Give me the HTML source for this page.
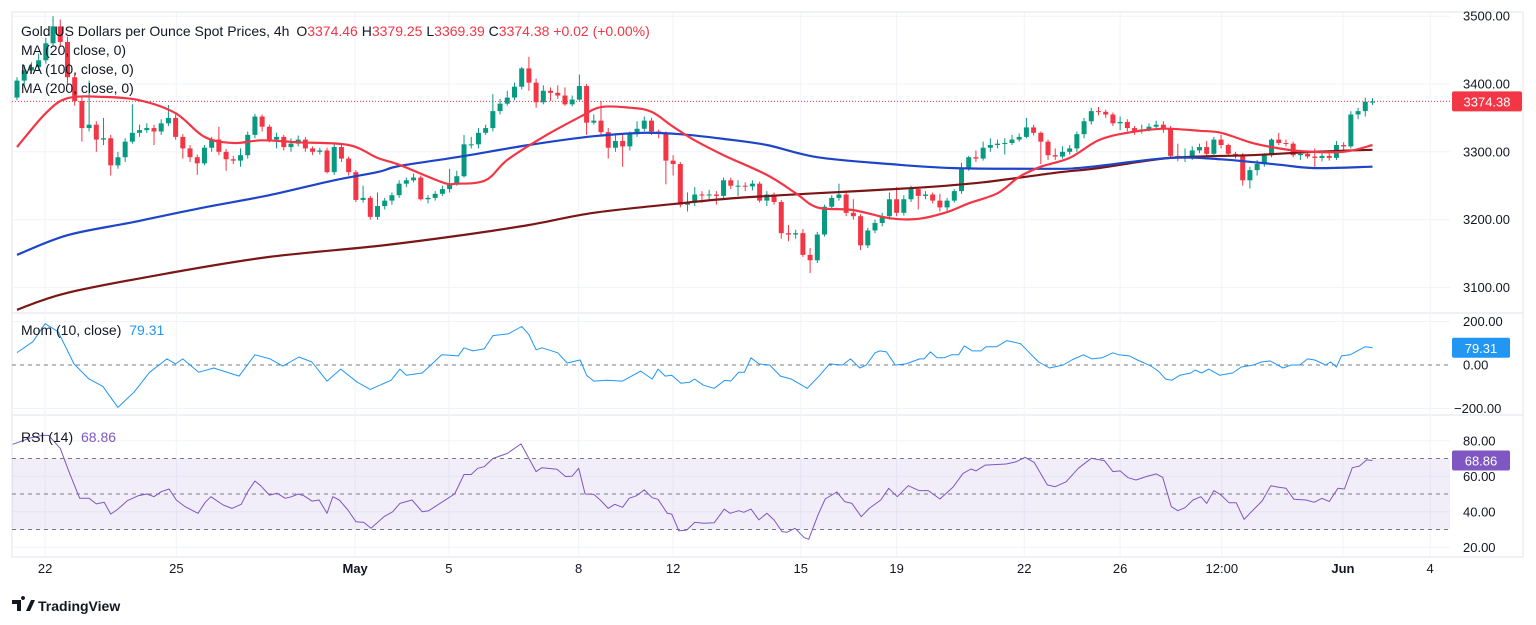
<!DOCTYPE html>
<html><head><meta charset="utf-8"><style>
html,body{margin:0;padding:0;background:#fff;width:1536px;height:625px;overflow:hidden}
svg{display:block;font-family:"Liberation Sans",sans-serif}
</style></head><body>
<svg id="c" width="1536" height="625" viewBox="0 0 1536 625">
<rect x="0" y="0" width="1536" height="625" fill="#fff"/>
<rect x="12" y="12" width="1511" height="545" fill="none" stroke="#e0e3eb" stroke-width="1"/>
<line x1="12" y1="313" x2="1523" y2="313" stroke="#e0e3eb"/>
<line x1="12" y1="415" x2="1523" y2="415" stroke="#e0e3eb"/>
<g id="grid"></g>
<g id="rsiband"></g>
<g id="marks"></g>
<g id="axes"></g>
<g font-size="14" fill="#131722">
<text x="21" y="36">Gold US Dollars per Ounce Spot Prices, 4h <tspan dx="3">O</tspan><tspan fill="#f23645">3374.46</tspan> <tspan>H</tspan><tspan fill="#f23645">3379.25</tspan> <tspan>L</tspan><tspan fill="#f23645">3369.39</tspan> <tspan>C</tspan><tspan fill="#f23645">3374.38</tspan> <tspan fill="#f23645">+0.02 (+0.00%)</tspan></text>
<text x="21" y="55">MA (20, close, 0)</text>
<text x="21" y="74">MA (100, close, 0)</text>
<text x="21" y="93">MA (200, close, 0)</text>
<text x="21" y="335">Mom (10, close) <tspan dx="4" fill="#2196f3">79.31</tspan></text>
<text x="21" y="442">RSI (14) <tspan dx="4" fill="#7e57c2">68.86</tspan></text>
</g>
<g>
<path d="M12 600h9v11h-4v-7h-5z M23 600a2 2 0 1 1 0.01 0 z M26 611l5-11h4l-5 11z" fill="#131722"/>
<text x="38" y="611" font-size="14" font-weight="bold" fill="#131722">TradingView</text>
</g>
</svg>
<script>
const closes=[3405,3420,3425,3435,3460,3485,3462,3410,3375,3335,3340,3318,3320,3280,3292,3315,3328,3332,3335,3330,3342,3350,3322,3305,3292,3283,3306,3318,3300,3289,3287,3295,3325,3352,3337,3318,3322,3307,3312,3318,3305,3300,3302,3270,3307,3290,3270,3229,3232,3204,3220,3228,3236,3253,3258,3262,3230,3232,3238,3245,3253,3264,3311,3311,3328,3335,3360,3371,3380,3396,3423,3402,3373,3390,3387,3383,3370,3377,3397,3343,3346,3329,3306,3316,3308,3326,3334,3346,3330,3327,3287,3282,3222,3225,3237,3236,3237,3235,3258,3250,3250,3249,3253,3228,3237,3226,3180,3178,3180,3148,3140,3178,3219,3232,3237,3210,3205,3162,3184,3195,3205,3230,3210,3230,3245,3235,3237,3228,3218,3228,3242,3275,3292,3290,3306,3310,3312,3313,3318,3322,3336,3328,3315,3295,3293,3300,3305,3326,3345,3360,3359,3355,3342,3344,3335,3330,3333,3337,3340,3335,3294,3290,3292,3302,3307,3297,3318,3310,3297,3295,3258,3273,3282,3295,3318,3313,3312,3295,3297,3293,3291,3294,3291,3310,3308,3355,3360,3374,3374];
const firstOpen=3380;
const highs=[3410,3428,3432,3445,3468,3500,3495,3470,3415,3380,3405,3345,3350,3325,3300,3320,3370,3340,3342,3340,3348,3369,3355,3326,3310,3296,3310,3322,3337,3304,3294,3305,3330,3356,3355,3340,3328,3325,3320,3324,3322,3308,3306,3306,3312,3310,3293,3273,3250,3235,3240,3232,3240,3258,3262,3268,3265,3236,3242,3250,3275,3272,3325,3322,3335,3340,3385,3378,3390,3402,3425,3440,3408,3398,3395,3398,3395,3383,3414,3400,3355,3375,3335,3325,3325,3330,3345,3352,3350,3333,3330,3295,3285,3240,3248,3242,3244,3242,3262,3262,3258,3255,3258,3256,3242,3240,3229,3192,3185,3186,3158,3182,3222,3236,3253,3240,3230,3208,3188,3200,3210,3240,3248,3236,3250,3248,3242,3240,3238,3232,3245,3284,3294,3302,3315,3320,3318,3320,3325,3327,3350,3340,3330,3318,3305,3308,3310,3330,3350,3365,3366,3362,3358,3352,3348,3338,3340,3342,3346,3345,3338,3312,3305,3308,3312,3316,3322,3325,3312,3300,3298,3278,3288,3298,3320,3328,3318,3315,3303,3299,3305,3298,3298,3316,3314,3360,3365,3380,3379];
const lows=[3376,3398,3415,3420,3430,3455,3455,3400,3368,3315,3330,3300,3310,3265,3275,3285,3312,3322,3328,3310,3325,3338,3318,3290,3285,3266,3280,3300,3295,3272,3282,3278,3290,3320,3330,3314,3305,3302,3300,3308,3300,3295,3296,3268,3266,3285,3265,3226,3225,3200,3200,3215,3222,3232,3248,3255,3228,3224,3228,3235,3240,3250,3262,3305,3305,3325,3330,3355,3368,3376,3392,3390,3365,3370,3375,3378,3368,3367,3375,3325,3340,3325,3290,3300,3278,3302,3322,3330,3325,3320,3252,3265,3218,3212,3220,3225,3230,3222,3230,3245,3235,3242,3243,3225,3220,3222,3172,3168,3172,3145,3121,3136,3175,3215,3228,3205,3200,3155,3158,3180,3190,3200,3205,3206,3226,3215,3230,3224,3212,3213,3225,3238,3272,3285,3287,3300,3305,3296,3310,3315,3320,3324,3282,3288,3288,3290,3296,3300,3320,3340,3354,3350,3338,3332,3330,3325,3327,3330,3335,3328,3290,3286,3285,3288,3298,3294,3295,3305,3294,3290,3250,3246,3265,3278,3292,3310,3308,3292,3288,3290,3275,3286,3287,3288,3303,3305,3348,3352,3369];
const ma20Bar=[0,4,7,12,17,22,26,30,34,39,46,50,53,59,61,65,68,73,78,81,85,88,91,94,98,104,108,111,116,121,125,129,132,136,139,142,146,150,154,159,164,167,171,174,178,184,188];
const ma20Val=[3307,3357,3379,3381,3376,3357,3322,3313,3317,3314,3310,3291,3281,3255,3253,3258,3288,3322,3351,3366,3365,3359,3337,3317,3295,3266,3239,3218,3214,3202,3201,3211,3224,3239,3263,3278,3291,3317,3328,3334,3331,3328,3314,3307,3301,3300,3310];
const ma100Bar=[0,7,16,25,35,44,50,53,61,71,80,87,92,98,104,111,121,130,144,147,150,160,167,175,180,188];
const ma100Val=[3148,3177,3196,3216,3236,3258,3270,3279,3292,3310,3323,3328,3326,3319,3310,3292,3282,3276,3275,3276,3279,3291,3289,3281,3276,3278];
const ma200Bar=[0,7,21,35,50,61,71,80,92,100,111,125,134,144,150,160,171,180,188];
const ma200Val=[3067,3092,3121,3145,3161,3176,3192,3210,3224,3232,3239,3247,3255,3269,3276,3291,3295,3300,3303];
const momBar=[0,2.2,3.9,5.7,7.9,10,11.9,14,16.2,18.4,20.8,22,23,25.2,27.3,30.8,33,35.1,36.9,39.1,40.9,43,44.9,47.2,49,51.9,53.1,54,56.2,57.7,58.9,61.2,62,63.2,64.8,66,68.2,70,71,72,72.8,75,76.3,78.1,79,80,81.8,84,86.5,88.1,88.9,89.9,90.8,92.1,93.3,94,95.2,96.7,98.2,99,100.1,100.9,101.8,102.9,104.4,105.9,107.4,109.6,111.1,112.7,114.5,115.6,116.9,117.8,119,119.7,120.6,121.8,123.3,125.2,125.8,126.7,127.6,128.6,129.6,130.6,131.4,132.5,133.7,134.4,135.9,137.3,139.2,140.7,141.7,143.2,145.1,146.3,147.9,149.1,150.5,152,152.8,154.3,155.4,157.3,158.3,159.3,160.2,161.3,162.8,163.4,164.3,165.3,166.8,168.6,169.8,171.5,172.6,173.8,175.6,176.7,177.9,179,180,181.5,182.2,183,183.7,184.9,187,188];
const momVal=[57,107,190,153,5,-65,-98,-195,-126,-33,28,5,28,-33,-14,-51,47,28,-5,37,14,-74,-19,-79,-112,-70,-19,-47,-37,9,47,42,79,65,74,135,144,177,140,70,79,56,9,23,-47,-74,-70,-74,-28,-65,-19,-51,-47,-84,-79,-65,-93,-107,-70,-74,-33,-33,33,5,0,-51,-65,-107,-56,5,0,28,-14,0,56,65,60,0,5,28,28,60,33,33,47,47,88,65,65,84,84,112,98,47,14,-14,0,23,47,28,33,56,47,42,23,-5,-28,-65,-70,-47,-37,-23,-37,-19,-47,-37,-9,0,14,19,-14,0,0,28,23,0,14,-9,42,47,84,79.31];
const rsiBar=[-0.6,1.7,3.5,4.4,6,7.2,8.7,10,11,12.1,13,14,15.3,16.8,18,19,20,21.1,22.1,23.3,25.1,26.1,26.9,28.6,29.8,31.1,32,33,33.8,35,36.1,37.2,38.1,39,39.8,40.9,41.9,43,43.8,44.7,45.9,47,48.1,49.1,50.9,52.1,53.1,54.8,56.2,57.1,58.9,60.7,62,63,63.9,64.8,66,68,69.9,72,72.8,74.9,76.1,77,77.9,78.8,80,80.9,82,82.9,84,84.9,85.9,87,88.1,88.9,90.2,90.8,91.8,92.9,94,95.3,96.7,98.1,98.9,100.1,100.8,101.8,102.9,104,105,106.1,106.8,107.9,109.2,109.8,111.1,112.1,113.7,114.8,115.8,117.1,118.2,119.8,120.9,122.1,123.6,125.1,126.4,128,129.8,131.2,132.3,133,134.3,137.2,138.6,139.8,141.1,142.9,144,145.5,147.2,149,150.8,152,153,154.1,155.2,156.6,158,158.9,160.1,161,162,163.1,164.2,165,166,167,168.1,169.1,170.2,171.2,172.7,173.9,175,176,177.1,178.8,179.9,181,182,183.2,184.1,185.2,186.2,187.2,188];
const rsiVal=[78,81.4,83,83,75.7,62.6,47.6,47.6,44.4,45.3,38.7,41.5,46.2,49,50,48.5,51.3,52.8,46.6,42.9,39.1,45.3,48.5,43.8,41.9,44.2,51.3,57.3,54.7,49.4,50.4,47.6,48.5,50,49,46,46.6,39.1,48.5,46.6,41,34.4,34,30.7,37.2,40,44.7,46.6,40,40.6,45.3,50,61,61,64.5,65.4,70,72.9,78.2,62.6,64.8,63.9,59.8,60.1,64.5,50,49.8,46.6,41.9,44.2,42.5,47.6,49,52.3,47.9,47,39.1,38.7,29.2,29.7,34,33.5,33.8,41.5,39.1,40.6,39.7,41.5,35.4,39.1,35.4,28.8,28.4,30.7,25.4,24.5,38.2,47.2,51.1,45.7,44.7,37.2,41.9,46.6,53.2,48.5,54.7,51.9,51.9,47.2,53.8,61.6,64.1,63,66.3,66.9,68.2,70.7,67.7,55.1,54.1,56.9,64.5,70.1,68.8,62.6,63,59.2,57.9,59.8,61.3,59.4,42.9,40.6,42.3,46.6,48.5,44.7,51.9,49.4,45.1,45.1,35.7,40,46.1,54.7,53.8,53.2,47,46.6,45.3,47.6,45.7,53.2,52.8,64.8,65.8,69.2,68.86];
const priceTicks=[3500,3400,3300,3200,3100];
const momTicks=[200,0,-200];
const rsiTicks=[80,60,40,20];
const dateLabels=["22","25","May","5","8","12","15","19","22","26","12:00","Jun","4"];
const dateBars=[3.9,22.1,46.9,59.9,77.9,91,108.7,122,139.7,153,167.1,183.9,196];
const lastPrice=3374.38, lastMom=79.31, lastRsi=68.86;

const NS="http://www.w3.org/2000/svg";
const L=12,R=1450;
const xB=i=>17+i*7.21;
const yP=p=>84+(3400-p)*0.678;
const yM=v=>365-v*0.2175;
const yR=v=>494-(v-50)*1.775;
function mk(tag,attrs,parent){const e=document.createElementNS(NS,tag);for(const k in attrs)e.setAttribute(k,attrs[k]);parent.appendChild(e);return e;}
const grid=document.getElementById('grid'),marks=document.getElementById('marks'),axes=document.getElementById('axes'),band=document.getElementById('rsiband');

priceTicks.forEach(t=>{const l=mk('line',{x1:L,x2:R,y1:yP(t),y2:yP(t),stroke:'#f0f3fa'},grid);


const tx=mk('text',{x:1463,y:yP(t)+4.5,'font-size':13,fill:'#131722'},axes);tx.textContent=t.toFixed(2);

});
dateBars.forEach((b,k)=>{[[12,313],[313,415],[415,557]].forEach(r=>{const l=mk('line',{x1:xB(b),x2:xB(b),y1:r[0],y2:r[1],stroke:'#f0f3fa'},grid);

});
const tx=mk('text',{x:xB(b),y:573,'font-size':13,fill:'#131722','text-anchor':'middle','font-weight':(dateLabels[k]=='May'||dateLabels[k]=='Jun')?'bold':'normal'},axes);tx.textContent=dateLabels[k];

});
momTicks.forEach(t=>{if(t!==0){const l=mk('line',{x1:L,x2:R,y1:yM(t),y2:yM(t),stroke:'#f0f3fa'},grid);

}
const tx=mk('text',{x:t<0?1454:1463,y:yM(t)+4.5,'font-size':13,fill:'#131722'},axes);tx.textContent=(t<0?'\u2212'+(-t).toFixed(2):t.toFixed(2));

});
const z=mk('line',{x1:L,x2:R,y1:yM(0),y2:yM(0),stroke:'#787b86','stroke-dasharray':'4 4'},grid);


rsiTicks.forEach(t=>{const l=mk('line',{x1:L,x2:R,y1:yR(t),y2:yR(t),stroke:'#f0f3fa'},grid);


const tx=mk('text',{x:1463,y:yR(t)+4.5,'font-size':13,fill:'#131722'},axes);tx.textContent=t.toFixed(2);

});
const bd=mk('rect',{x:L,y:yR(70),width:R-L,height:yR(30)-yR(70),fill:'rgba(126,87,194,0.1)'},band);


[70,50,30].forEach(v=>{const l=mk('line',{x1:L,x2:R,y1:yR(v),y2:yR(v),stroke:'#787b86','stroke-dasharray':'4 4'},band);

});

const lp=mk('line',{x1:L,x2:R,y1:yP(lastPrice),y2:yP(lastPrice),stroke:'#f23645','stroke-dasharray':'1 2'},marks);



closes.forEach((c,i)=>{const o=i?closes[i-1]:firstOpen;const up=c>=o;const col=up?'#089981':'#f23645';const x=xB(i);
const g=mk('g',{},marks);


mk('line',{x1:x,x2:x,y1:yP(highs[i]),y2:yP(lows[i]),stroke:col,'stroke-width':1},g);
const t=yP(Math.max(o,c)),b=yP(Math.min(o,c));
mk('rect',{x:x-2.5,y:t,width:5,height:Math.max(1,b-t),fill:col},g);});

function line(bars,vals,yf,col,w,name,smooth){
const P=bars.map((b,k)=>[xB(b),yf(vals[k])]);let d='M'+P[0][0].toFixed(1)+' '+P[0][1].toFixed(1);
for(let k=0;k<P.length-1;k++){
 if(!smooth){d+=' L'+P[k+1][0].toFixed(1)+' '+P[k+1][1].toFixed(1);continue;}
 const p0=P[Math.max(0,k-1)],p1=P[k],p2=P[k+1],p3=P[Math.min(P.length-1,k+2)];
 const c1=[p1[0]+(p2[0]-p0[0])/6,p1[1]+(p2[1]-p0[1])/6],c2=[p2[0]-(p3[0]-p1[0])/6,p2[1]-(p3[1]-p1[1])/6];
 d+=' C'+c1[0].toFixed(1)+' '+c1[1].toFixed(1)+' '+c2[0].toFixed(1)+' '+c2[1].toFixed(1)+' '+p2[0].toFixed(1)+' '+p2[1].toFixed(1);}
const p=mk('path',{d:d,fill:'none',stroke:col,'stroke-width':w,'stroke-linejoin':'round'},marks);

}
line(ma200Bar,ma200Val,yP,'#7b1616',2.2,'ma200-line',true);
line(ma100Bar,ma100Val,yP,'#1e44c8',2.2,'ma100-line',true);
line(ma20Bar,ma20Val,yP,'#f23645',2.2,'ma20-line',true);
line(momBar,momVal,yM,'#2196f3',1,'momentum-line',false);
line(rsiBar,rsiVal,yR,'#7e57c2',1,'rsi-line',false);

function badge(y,txt,col,w,name){const g=mk('g',{},axes);


mk('rect',{x:1452,y:y-10,width:w,height:20,rx:2,fill:col},g);
const t=mk('text',{x:1452+w/2,y:y+5,'font-size':13,fill:'#fff','text-anchor':'middle'},g);t.textContent=txt;}
badge(yP(lastPrice),lastPrice.toFixed(2),'#f23645',70,'last-price-label');
badge(yM(lastMom),lastMom.toFixed(2),'#2196f3',58,'mom-value-label');
badge(yR(lastRsi),lastRsi.toFixed(2),'#7e57c2',58,'rsi-value-label');
</script>
</body></html>
